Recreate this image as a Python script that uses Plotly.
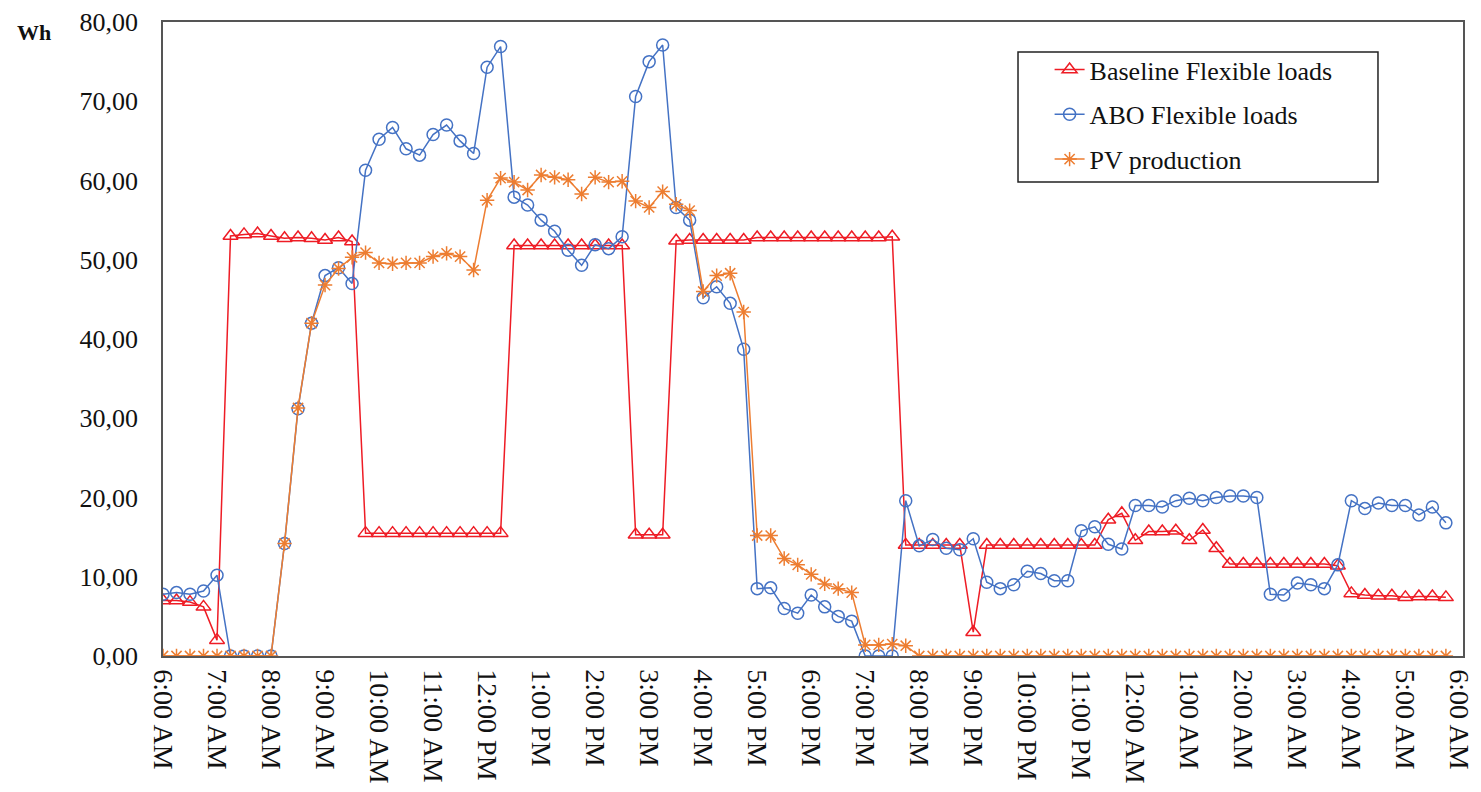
import pandas as pd
import plotly.graph_objects as go

# ---- data (15-minute steps from 6:00 AM to 5:45 AM next day) ----
times = pd.date_range("2021-01-01 06:00", periods=96, freq="15min")

baseline = [7.0, 7.0, 6.8, 6.2, 2.0,
            53.0, 53.2, 53.3, 53.0, 52.7, 52.8, 52.7, 52.5, 52.8, 52.3,
            15.5, 15.5, 15.5, 15.5, 15.5, 15.5, 15.5, 15.5, 15.5, 15.5, 15.5,
            51.8, 51.8, 51.8, 51.8, 51.8, 51.8, 51.8, 51.8, 51.8,
            15.3, 15.3, 15.3,
            52.4, 52.5, 52.5, 52.5, 52.5, 52.5, 52.8, 52.8, 52.8, 52.8, 52.8,
            52.8, 52.8, 52.8, 52.8, 52.8, 52.9,
            14.0, 14.0, 14.0, 14.0, 14.0,
            3.0,
            14.0, 14.0, 14.0, 14.0, 14.0, 14.0, 14.0, 14.0, 14.0,
            17.2, 18.0, 14.6, 15.7, 15.7, 15.8, 14.6, 15.9, 13.6,
            11.6, 11.6, 11.6, 11.6, 11.6, 11.6, 11.6, 11.6, 11.4,
            7.9, 7.7, 7.6, 7.6, 7.4, 7.5, 7.5, 7.4]

abo = [7.8, 8.0, 7.8, 8.2, 10.2,
       0.0, 0.0, 0.0, 0.0,
       14.2, 31.2, 42.0, 48.0, 49.0, 47.0,
       61.3, 65.2, 66.7, 64.0, 63.2, 65.8, 67.0, 65.0, 63.4, 74.3, 76.9,
       57.9, 56.9, 55.0, 53.6, 51.2, 49.3, 51.9, 51.4, 52.9,
       70.6, 75.0, 77.1, 56.6, 55.0, 45.2, 46.6, 44.5, 38.7,
       8.5, 8.6, 6.0, 5.4, 7.7, 6.2, 5.0, 4.4,
       0.0, 0.0, 0.0,
       19.6, 13.9, 14.7, 13.6, 13.4, 14.8, 9.3, 8.5, 9.0, 10.7, 10.4,
       9.5, 9.5, 15.8, 16.3, 14.1, 13.5, 19.0, 19.0, 18.8, 19.6, 19.9,
       19.6, 20.0, 20.2, 20.2, 20.0, 7.8, 7.7, 9.2, 9.0, 8.5, 11.5,
       19.6, 18.6, 19.3, 19.0, 19.0, 17.8, 18.8, 16.8]

pv = [0.0, 0.0, 0.0, 0.0, 0.0, 0.0, 0.0, 0.0, 0.0,
      14.2, 31.3, 42.0, 46.8, 48.9, 50.3, 50.9,
      49.6, 49.5, 49.6, 49.6, 50.4, 50.8, 50.4, 48.7,
      57.5, 60.3, 59.8, 58.8, 60.7, 60.4, 60.1, 58.3, 60.4, 59.8, 59.9,
      57.4, 56.6, 58.6, 57.0, 56.2, 46.0, 48.0, 48.3, 43.4,
      15.2, 15.2, 12.3, 11.5, 10.3, 9.1, 8.5, 8.0,
      1.4, 1.4, 1.5, 1.3] + [0.0] * 40

tick_times = pd.date_range("2021-01-01 06:00", periods=25, freq="h")
tick_labels = ["6:00 AM", "7:00 AM", "8:00 AM", "9:00 AM", "10:00 AM", "11:00 AM",
               "12:00 PM", "1:00 PM", "2:00 PM", "3:00 PM", "4:00 PM", "5:00 PM",
               "6:00 PM", "7:00 PM", "8:00 PM", "9:00 PM", "10:00 PM", "11:00 PM",
               "12:00 AM", "1:00 AM", "2:00 AM", "3:00 AM", "4:00 AM", "5:00 AM",
               "6:00 AM"]

series_names = ["Baseline Flexible loads", "ABO Flexible loads", "PV production"]
colors = ["#EE1C25", "#4472C4", "#ED7D31"]

FONT = "Liberation Serif, Times New Roman, serif"

fig = go.Figure()
fig.add_trace(go.Scatter(
    x=times, y=baseline, name=series_names[0], mode="lines+markers",
    line=dict(color=colors[0], width=1.5),
    marker=dict(symbol="triangle-up-open", size=13, color=colors[0],
                line=dict(width=1.5, color=colors[0])),
    legendgroup="a"))
fig.add_trace(go.Scatter(
    x=times, y=abo, name=series_names[1], mode="lines+markers",
    line=dict(color=colors[1], width=1.5),
    marker=dict(symbol="circle-open", size=12, color=colors[1],
                line=dict(width=1.5, color=colors[1])),
    legendgroup="b"))
fig.add_trace(go.Scatter(
    x=times, y=pv, name=series_names[2], mode="lines+markers",
    line=dict(color=colors[2], width=1.5),
    marker=dict(symbol="asterisk-open", size=12, color=colors[2],
                line=dict(width=1.5, color=colors[2])),
    legendgroup="c"))

fig.update_layout(
    width=1473, height=784,
    margin=dict(l=155, r=18, t=14, b=136, autoexpand=False),
    paper_bgcolor="white", plot_bgcolor="white",
    font=dict(family=FONT, color="#111111"),
    separators=",.",
    showlegend=True,
    legend=dict(x=0.682, y=0.962, xanchor="left", yanchor="top",
                font=dict(family=FONT, size=26, color="#111111"),
                bgcolor="rgba(0,0,0,0)", borderwidth=0,
                tracegroupgap=8, itemwidth=30),
    shapes=[dict(type="rect", xref="paper", yref="paper",
                 x0=0.6577, x1=0.9346, y0=0.7476, y1=0.9527,
                 line=dict(color="#222222", width=1.5), fillcolor="rgba(0,0,0,0)")],
    annotations=[dict(text="<b>Wh</b>", xref="paper", yref="paper",
                      x=-0.099, y=0.983, xanchor="center", yanchor="middle",
                      showarrow=False, font=dict(family=FONT, size=22, color="#111111"))],
)

fig.update_xaxes(
    range=[pd.Timestamp("2021-01-01 06:00"), pd.Timestamp("2021-01-02 06:04")],
    tickvals=tick_times, ticktext=tick_labels, tickangle=90,
    tickfont=dict(family=FONT, size=28, color="#111111"),
    showgrid=False, zeroline=False, ticks="", automargin=False,
    showline=True, linecolor="#555555", linewidth=1.5, mirror=True,
    ticklabelstandoff=6)

fig.update_yaxes(
    range=[0, 80], dtick=10, tickformat=".2f",
    tickfont=dict(family=FONT, size=26, color="#111111"),
    showgrid=False, zeroline=False, ticks="", automargin=False,
    showline=True, linecolor="#555555", linewidth=1.5, mirror=True,
    ticklabelstandoff=18)

fig.write_html("out.html")
